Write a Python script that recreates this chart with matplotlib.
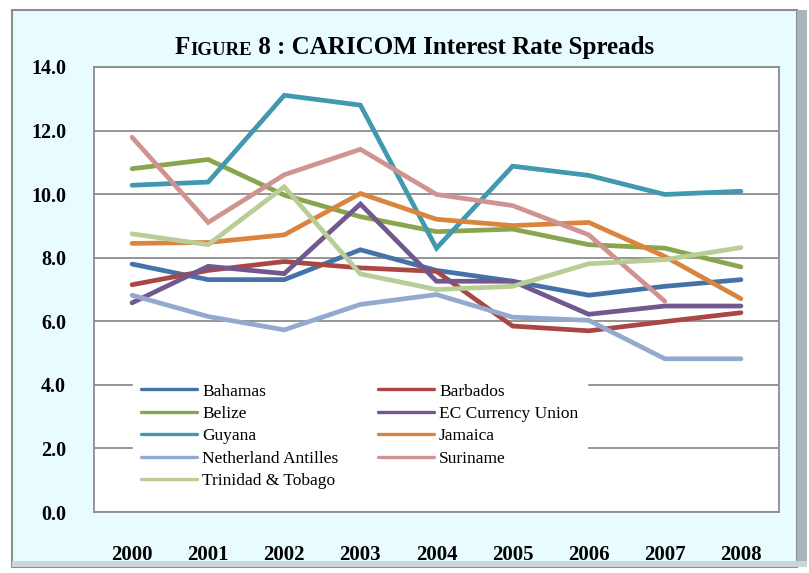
import matplotlib
matplotlib.use("Agg")
import matplotlib.pyplot as plt
import numpy as np
from matplotlib.patches import Rectangle

# data
years = ["2000", "2001", "2002", "2003", "2004", "2005", "2006", "2007", "2008"]
bahamas = [7.80, 7.31, 7.31, 8.25, 7.60, 7.26, 6.82, 7.10, 7.31]
barbados = [7.15, 7.60, 7.88, 7.68, 7.57, 5.85, 5.70, 5.99, 6.27]
belize = [10.80, 11.09, 9.97, 9.29, 8.82, 8.90, 8.41, 8.30, 7.71]
ec_union = [6.58, 7.73, 7.50, 9.69, 7.26, 7.26, 6.22, 6.48, 6.48]
guyana = [10.28, 10.38, 13.11, 12.80, 8.30, 10.88, 10.59, 9.99, 10.09]
jamaica = [8.45, 8.48, 8.72, 10.02, 9.21, 9.01, 9.11, 8.04, 6.71]
neth_antilles = [6.82, 6.15, 5.73, 6.53, 6.84, 6.13, 6.03, 4.82, 4.82]
suriname = [11.79, 9.11, 10.61, 11.41, 9.99, 9.64, 8.72, 6.63, np.nan]
trinidad = [8.75, 8.41, 10.23, 7.49, 7.00, 7.10, 7.81, 7.94, 8.32]

names = ["Bahamas", "Barbados", "Belize", "EC Currency Union", "Guyana",
         "Jamaica", "Netherland Antilles", "Suriname", "Trinidad & Tobago"]
series = [bahamas, barbados, belize, ec_union, guyana, jamaica,
          neth_antilles, suriname, trinidad]
colors = ["#4572A7", "#AA4643", "#89A54E", "#71588F", "#4198AF",
          "#DB843D", "#93A9CF", "#D19392", "#B9CD96"]

W, H = 809, 573
fig = plt.figure(figsize=(W / 100, H / 100), dpi=100)
fig.patch.set_facecolor("white")

# outer panel with a bevel look
panel = Rectangle((12 / W, 1 - 567 / H), 785 / W, 557 / H, transform=fig.transFigure,
                  facecolor="#E8FBFE", edgecolor="#8E8E8E", linewidth=1.5, zorder=-5)
fig.patches.append(panel)
shade = Rectangle((797 / W, 1 - 567 / H), 10 / W, 557 / H, transform=fig.transFigure,
                  facecolor="#A7B4B9", edgecolor="none", zorder=-5)
fig.patches.append(shade)
shade2 = Rectangle((12 / W, 1 - 567 / H), 795 / W, 6 / H, transform=fig.transFigure,
                   facecolor="#C9D6DA", edgecolor="none", zorder=-5)
fig.patches.append(shade2)

ax = fig.add_axes([94 / W, 1 - 512 / H, 685 / W, 445 / H])
ax.set_zorder(2)
ax.set_facecolor("white")

x = np.arange(len(years))
lines = []
for name, vals, c in zip(names, series, colors):
    ln, = ax.plot(x, vals, color=c, linewidth=3.4, label=name,
                  solid_joinstyle="miter", solid_capstyle="round", zorder=3)
    lines.append(ln)

ax.set_xlim(-0.5, len(years) - 0.5)
ax.set_ylim(0, 14)
ax.set_yticks(np.arange(0, 14.1, 2))
ax.set_yticklabels(["%.1f" % v for v in np.arange(0, 14.1, 2)])
ax.set_xticks(x)
ax.set_xticklabels(years)
ax.tick_params(axis="both", length=0)
ax.tick_params(axis="y", pad=20)
ax.tick_params(axis="x", pad=24)
for lab in ax.get_yticklabels():
    lab.set_fontfamily("Liberation Serif")
    lab.set_fontweight("bold")
    lab.set_fontsize(14.5)
for lab in ax.get_xticklabels():
    lab.set_fontfamily("Liberation Serif")
    lab.set_fontweight("bold")
    lab.set_fontsize(15)

ax.yaxis.grid(True, color="#8C8C8C", linewidth=1.3)
ax.set_axisbelow(True)
for s in ax.spines.values():
    s.set_color("#8C8C8C")
    s.set_linewidth(1.3)

# legend filled row by row like the original
order = [0, 2, 4, 6, 8, 1, 3, 5, 7]
leg = ax.legend([lines[i] for i in order], [names[i] for i in order], ncol=2,
                loc="upper left", bbox_to_anchor=(30 / 685, 146 / 445),
                frameon=True, fancybox=False, framealpha=1, edgecolor="white",
                prop={"family": "Liberation Serif", "size": 12.5},
                handlelength=3.2, handletextpad=0.3, columnspacing=2.3,
                labelspacing=0.36, borderpad=0.5)
leg.set_zorder(5)
for l in leg.get_lines():
    l.set_linewidth(2.4)

# title with small caps for "Figure"
t1 = fig.text(175 / W, 1 - 54 / H, "F", fontfamily="Liberation Serif",
              fontweight="bold", fontsize=18, va="baseline", ha="left")
t2 = ax.annotate("IGURE", xy=(1, 0), xycoords=t1, va="bottom", ha="left",
                 fontfamily="Liberation Serif", fontweight="bold", fontsize=13.5,
                 annotation_clip=False)
t3 = ax.annotate(" 8 : CARICOM Interest Rate Spreads", xy=(1, 0), xycoords=t2,
                 va="bottom", ha="left", fontfamily="Liberation Serif",
                 fontweight="bold", fontsize=18, annotation_clip=False)

fig.savefig("out.png", dpi=100, facecolor=fig.get_facecolor())
